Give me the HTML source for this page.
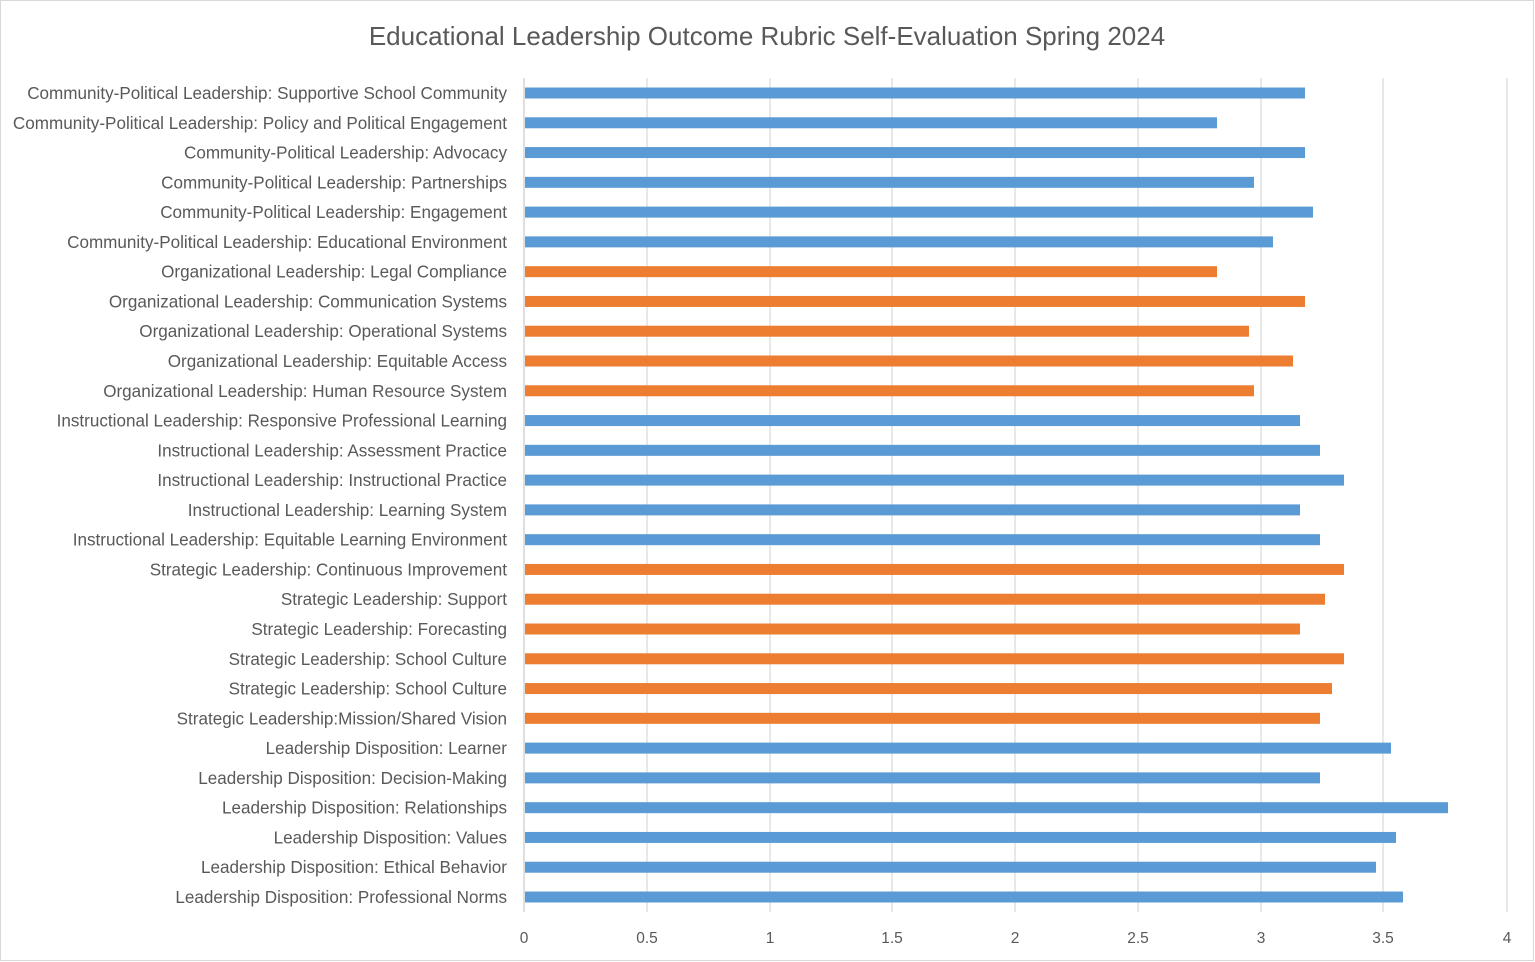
<!DOCTYPE html>
<html><head><meta charset="utf-8"><style>
html,body{margin:0;padding:0;background:#fff}
svg{display:block}
text{font-family:"Liberation Sans",sans-serif;fill:#595959}
</style></head><body>
<svg width="1535" height="962" xmlns="http://www.w3.org/2000/svg">
<rect x="0.5" y="0.5" width="1533" height="960" fill="#fff" stroke="#d9d9d9"/>
<text x="767" y="45" font-size="26" text-anchor="middle">Educational Leadership Outcome Rubric Self-Evaluation Spring 2024</text>
<g stroke="#d9d9d9" stroke-width="1.2">
<line x1="647" y1="78" x2="647" y2="912"/><line x1="770" y1="78" x2="770" y2="912"/>
<line x1="892" y1="78" x2="892" y2="912"/><line x1="1015" y1="78" x2="1015" y2="912"/>
<line x1="1138" y1="78" x2="1138" y2="912"/><line x1="1261" y1="78" x2="1261" y2="912"/>
<line x1="1383" y1="78" x2="1383" y2="912"/><line x1="1507" y1="78" x2="1507" y2="912"/>
</g>
<line x1="524" y1="78" x2="524" y2="912" stroke="#bfbfbf"/>
<g font-size="15.5" text-anchor="middle">
<text x="524" y="943">0</text><text x="647" y="943">0.5</text><text x="770" y="943">1</text><text x="892" y="943">1.5</text><text x="1015" y="943">2</text><text x="1138" y="943">2.5</text><text x="1261" y="943">3</text><text x="1383" y="943">3.5</text><text x="1507" y="943">4</text>
</g>
<g id="bars"></g>
<g id="labels" font-size="17.1" text-anchor="end"></g>
<script>
var d=[
["Community-Political Leadership: Supportive School Community",1305,0],
["Community-Political Leadership: Policy and Political Engagement",1217,0],
["Community-Political Leadership: Advocacy",1305,0],
["Community-Political Leadership: Partnerships",1254,0],
["Community-Political Leadership: Engagement",1313,0],
["Community-Political Leadership: Educational Environment",1273,0],
["Organizational Leadership: Legal Compliance",1217,1],
["Organizational Leadership: Communication Systems",1305,1],
["Organizational Leadership: Operational Systems",1249,1],
["Organizational Leadership: Equitable Access",1293,1],
["Organizational Leadership: Human Resource System",1254,1],
["Instructional Leadership: Responsive Professional Learning",1300,0],
["Instructional Leadership: Assessment Practice",1320,0],
["Instructional Leadership: Instructional Practice",1344,0],
["Instructional Leadership: Learning System",1300,0],
["Instructional Leadership: Equitable Learning Environment",1320,0],
["Strategic Leadership: Continuous Improvement",1344,1],
["Strategic Leadership: Support",1325,1],
["Strategic Leadership: Forecasting",1300,1],
["Strategic Leadership: School Culture",1344,1],
["Strategic Leadership: School Culture",1332,1],
["Strategic Leadership:Mission/Shared Vision",1320,1],
["Leadership Disposition: Learner",1391,0],
["Leadership Disposition: Decision-Making",1320,0],
["Leadership Disposition: Relationships",1448,0],
["Leadership Disposition: Values",1396,0],
["Leadership Disposition: Ethical Behavior",1376,0],
["Leadership Disposition: Professional Norms",1403,0]];
var NS="http://www.w3.org/2000/svg",b=document.getElementById("bars"),l=document.getElementById("labels");
d.forEach(function(r,i){var y=93+i*804/27;
var e=document.createElementNS(NS,"rect");e.setAttribute("x",525);e.setAttribute("y",y-5.5);e.setAttribute("width",r[1]-525);e.setAttribute("height",11);e.setAttribute("fill",r[2]?"#ed7d31":"#5b9bd5");b.appendChild(e);
var t=document.createElementNS(NS,"text");t.setAttribute("x",507);t.setAttribute("y",y+6);t.textContent=r[0];l.appendChild(t);});
</script>
</svg>
</body></html>
